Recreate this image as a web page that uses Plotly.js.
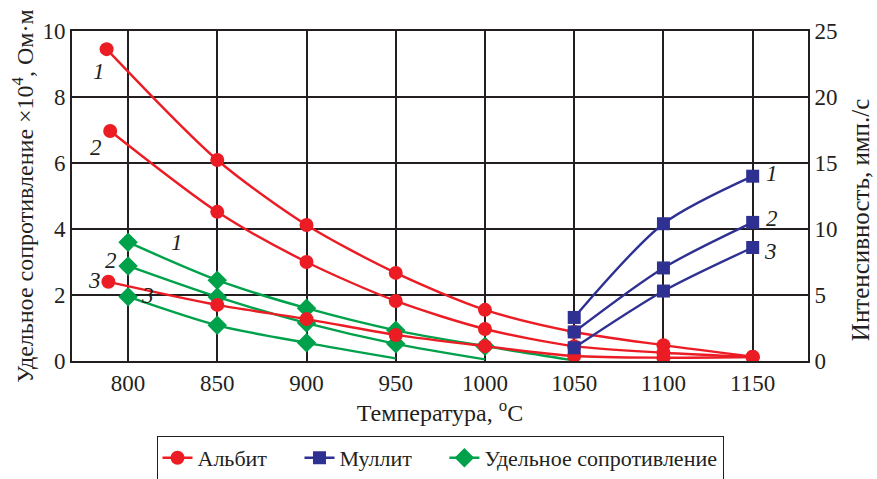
<!DOCTYPE html>
<html>
<head>
<meta charset="utf-8">
<script src="https://cdn.plot.ly/plotly-3.0.1.min.js"></script>
<style>html,body{margin:0;padding:0;background:#fff;}#chart{width:877px;height:479px;}</style>
</head>
<body>
<div id="chart"></div>
<script>
// Albit (left axis, resistivity ×10^4 Ohm·m)
const albitT1 = [788, 850, 900, 950, 1000, 1050, 1100, 1150];
const albit1  = [9.45, 6.09, 4.12, 2.67, 1.55, 0.88, 0.48, 0.13];
const albitT2 = [790, 850, 900, 950, 1000, 1050, 1100, 1150];
const albit2  = [6.97, 4.52, 3.0, 1.82, 0.97, 0.45, 0.25, 0.12];
const albitT3 = [789, 850, 900, 950, 1000, 1050, 1100, 1150];
const albit3  = [2.4, 1.7, 1.27, 0.79, 0.45, 0.15, 0.1, 0.12];
// Mullit (right axis, intensity)
const mullitT = [1050, 1100, 1150];
const mullit1 = [3.3, 10.4, 14.0];
const mullit2 = [2.2, 7.05, 10.5];
const mullit3 = [1.0, 5.3, 8.6];
// Resistivity (left axis)
const resT1 = [800, 850, 900, 950, 1000, 1050];
const res1  = [3.6, 2.45, 1.6, 0.93, 0.45, 0.02];
const resT2 = [800, 850, 900, 950, 1000];
const res2  = [2.88, 1.94, 1.15, 0.52, 0.05];
const resT3 = [800, 850, 900, 950];
const res3  = [1.95, 1.08, 0.55, 0.08];
// Ticks & labels
const xTicks = [800, 850, 900, 950, 1000, 1050, 1100, 1150];
const yLeftTicks = [0, 2, 4, 6, 8, 10];
const yRightTicks = [0, 5, 10, 15, 20, 25];
const seriesNames = ['Альбит', 'Муллит', 'Удельное сопротивление'];

const RED = '#ec1c24', BLUE = '#2e3192', GREEN = '#00a14b';
const INK = '#231f20';
const FONT = 'Liberation Serif';
const PAD = '\u00a0\u00a0\u00a0\u00a0\u00a0';  // extra gap after legend entries

function tr(x, y, color, symbol, size, name, show, yaxis, markerless) {
  const sizes = x.map((v, i) => (markerless && i === x.length - 1) ? 0 : size);
  return {
    x: x, y: y, type: 'scatter', mode: 'lines+markers', name: name,
    showlegend: show, yaxis: yaxis || 'y',
    line: {color: color, width: 2.4, shape: 'spline', smoothing: 0.8},
    marker: {color: color, symbol: symbol, size: sizes, opacity: 1, line: {width: 0}}
  };
}

const data = [
  tr(resT1, res1, GREEN, 'diamond', 15, seriesNames[2], false, 'y', true),
  tr(resT2, res2, GREEN, 'diamond', 15, seriesNames[2], false, 'y', true),
  tr(resT3, res3, GREEN, 'diamond', 15, seriesNames[2], false, 'y', true),
  tr(albitT1, albit1, RED, 'circle', 14, seriesNames[0] + PAD, true),
  tr(albitT2, albit2, RED, 'circle', 14, seriesNames[0], false),
  tr(albitT3, albit3, RED, 'circle', 14, seriesNames[0], false),
  tr(mullitT, mullit1, BLUE, 'square', 13, seriesNames[1] + PAD, true, 'y2'),
  tr(mullitT, mullit2, BLUE, 'square', 13, seriesNames[1], false, 'y2'),
  tr(mullitT, mullit3, BLUE, 'square', 13, seriesNames[1], false, 'y2'),
  {x: [null], y: [null], type: 'scatter', mode: 'lines+markers', name: seriesNames[2], showlegend: true,
   line: {color: GREEN, width: 2.4}, marker: {color: GREEN, symbol: 'diamond', size: 15, opacity: 1}}
];

const lab = (x, y, t, yref) => ({x: x, y: y, xref: 'x', yref: yref || 'y', text: '<i>' + t + '</i>',
  showarrow: false, font: {family: FONT, size: 23, color: INK}});

const annotations = [
  lab(784, 8.76, '1'), lab(782, 6.48, '2'), lab(781, 2.45, '3'),
  lab(827.5, 3.58, '1'), lab(790.5, 3.06, '2'), lab(811, 2.0, '3'),
  lab(1161, 14.2, '1', 'y2'), lab(1161, 10.76, '2', 'y2'), lab(1160, 8.33, '3', 'y2'),
  {xref: 'paper', yref: 'paper', x: 1.0707, y: 0.427, xanchor: 'center', yanchor: 'middle',
   textangle: -90, showarrow: false, text: 'Интенсивность, имп./с',
   font: {family: FONT, size: 25, color: INK}}
];

const layout = {
  width: 877, height: 479,
  margin: {l: 72, r: 69, t: 31, b: 118},
  paper_bgcolor: '#fff', plot_bgcolor: '#fff',
  font: {family: FONT, size: 23, color: INK},
  showlegend: true,
  legend: {orientation: 'h', x: 0.5, xanchor: 'center', yref: 'container', y: 1 - 436 / 479, yanchor: 'top',
    bordercolor: INK, borderwidth: 1, font: {size: 22}, traceorder: 'normal'},
  xaxis: {range: [768.6, 1181], tickvals: xTicks, ticktext: xTicks.map(String),
    showgrid: true, gridcolor: INK, gridwidth: 2, zeroline: false,
    showline: true, linecolor: INK, linewidth: 2, mirror: true, ticks: '',
    title: {text: 'Температура, <sup>o</sup>C', font: {size: 24}, standoff: 4}},
  yaxis: {range: [0, 10], tickvals: yLeftTicks, showgrid: true, gridcolor: INK, gridwidth: 2,
    zeroline: false, showline: true, linecolor: INK, linewidth: 2, ticks: '',
    title: {text: 'Удельное сопротивление ×10<sup>4</sup>, Ом·м', font: {size: 24}, standoff: 2}},
  yaxis2: {range: [0, 25], tickvals: yRightTicks, overlaying: 'y', side: 'right', showgrid: false,
    zeroline: false, showline: true, linecolor: INK, linewidth: 2, ticks: ''},
  annotations: annotations
};

Plotly.newPlot('chart', data, layout, {displayModeBar: false, staticPlot: true});
</script>
</body>
</html>
